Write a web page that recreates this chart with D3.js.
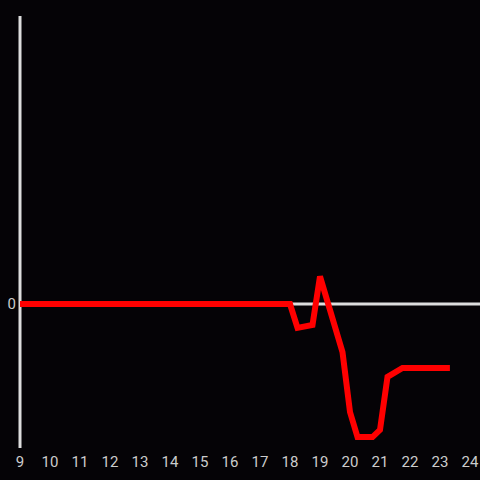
<!DOCTYPE html>
<html lang="en">
<head>
<meta charset="UTF-8">
<title>line</title>
<script src="https://cdn.jsdelivr.net/npm/d3@7"></script>
<style>
  html, body { margin: 0; padding: 0; background: #050306; }
</style>
</head>
<body>
<script>
    // hours of day (x) and values (y)
    var hours = [9, 18, 18.25, 18.75, 19, 19.75, 20, 20.25, 20.75, 21, 21.25, 21.75, 23.33];
    var values = [0, 0, -8.3, -7.3, 9.6, -16.7, -37.5, -46.2, -46.2, -43.7, -25.3, -22.2, -22.2];
    var xTicks = [9, 10, 11, 12, 13, 14, 15, 16, 17, 18, 19, 20, 21, 22, 23, 24];
    var yTicks = [0];

    var width = 480, height = 480;
    var svg = d3.select("body").append("svg")
        .attr("width", width)
        .attr("height", height)
        .style("display", "block")
        .style("background", "#050306");

    var x = d3.scaleLinear().domain([9, 24]).range([20, 470]);
    var y = d3.scaleLinear().domain([-50, 100]).range([448, 16]);

    // zero line
    svg.append("line")
        .attr("x1", x(9)).attr("x2", width)
        .attr("y1", y(0)).attr("y2", y(0))
        .attr("stroke", "#dddddd")
        .attr("stroke-width", 3);

    // y axis
    svg.append("line")
        .attr("x1", x(9)).attr("x2", x(9))
        .attr("y1", y(100)).attr("y2", y(-50))
        .attr("stroke", "#dddddd")
        .attr("stroke-width", 3);

    svg.selectAll(".ylab")
        .data(yTicks)
        .enter().append("text")
        .attr("class", "ylab")
        .attr("x", 16)
        .attr("y", function (d) { return y(d); })
        .attr("dy", "0.36em")
        .attr("text-anchor", "end")
        .attr("fill", "#cccccc")
        .style("font-family", "Roboto, sans-serif")
        .style("font-size", "15px")
        .text(function (d) { return d; });

    svg.selectAll(".xlab")
        .data(xTicks)
        .enter().append("text")
        .attr("class", "xlab")
        .attr("x", function (d) { return x(d); })
        .attr("y", 466.5)
        .attr("text-anchor", "middle")
        .attr("fill", "#cccccc")
        .style("font-family", "Roboto, sans-serif")
        .style("font-size", "15px")
        .text(function (d) { return d; });

    var line = d3.line()
        .x(function (d, i) { return x(hours[i]); })
        .y(function (d) { return y(d); });

    svg.append("path")
        .datum(values)
        .attr("d", line)
        .attr("fill", "none")
        .attr("stroke", "#ff0000")
        .attr("stroke-width", 6);
</script>
</body>
</html>
